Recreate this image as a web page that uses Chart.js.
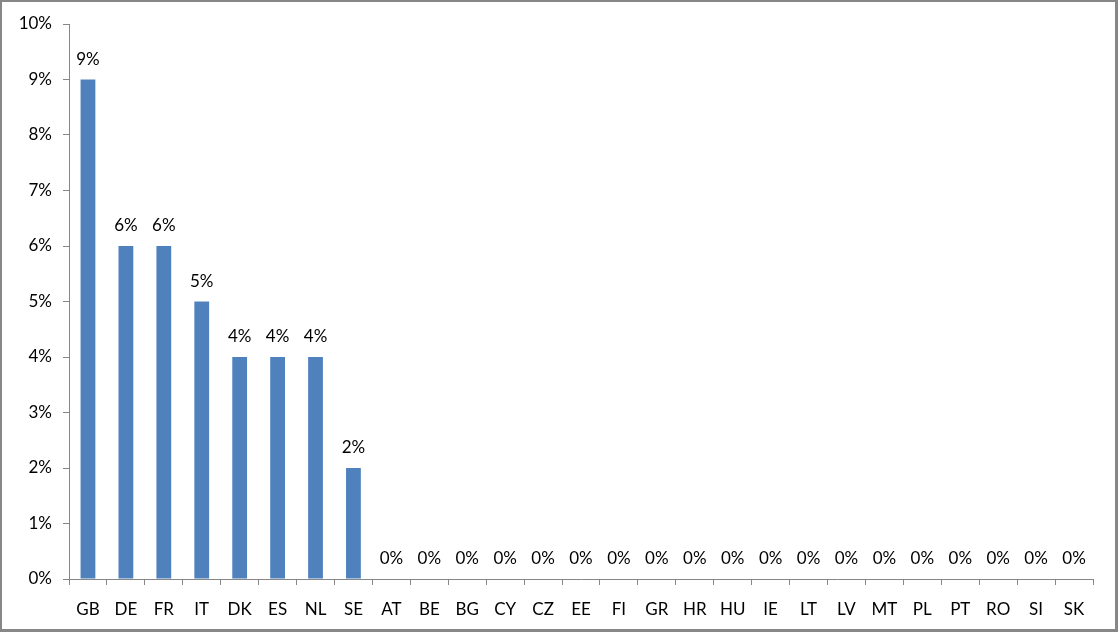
<!DOCTYPE html>
<html>
<head>
<meta charset="utf-8">
<script src="https://cdn.jsdelivr.net/npm/chart.js@4/dist/chart.umd.min.js"></script>
<style>
  html, body { margin: 0; padding: 0; background: #fff; }
  #wrap {
    width: 1118px; height: 632px; box-sizing: border-box;
    border: 2px solid #878787; border-right-width: 3px; border-bottom-width: 3px;
    background: #fff;
  }
  #wrap canvas { display: block; }
</style>
</head>
<body>
<div id="wrap"><canvas id="chart"></canvas></div>
<script>
const countries = ["GB", "DE", "FR", "IT", "DK", "ES", "NL", "SE", "AT", "BE", "BG", "CY", "CZ", "EE", "FI", "GR", "HR", "HU", "IE", "LT", "LV", "MT", "PL", "PT", "RO", "SI", "SK"];
const shares = [9, 6, 6, 5, 4, 4, 4, 2, 0, 0, 0, 0, 0, 0, 0, 0, 0, 0, 0, 0, 0, 0, 0, 0, 0, 0, 0];
const yTicks = [0, 1, 2, 3, 4, 5, 6, 7, 8, 9, 10];

const FONT = "Lato, 'Open Sans', sans-serif";
const AXIS = '#868686';

// value labels above each bar
const barLabels = {
  id: 'barLabels',
  afterDatasetsDraw(chart) {
    const ctx = chart.ctx;
    const meta = chart.getDatasetMeta(0);
    ctx.save();
    ctx.font = '17px ' + FONT;
    ctx.fillStyle = '#000';
    ctx.textAlign = 'center';
    ctx.textBaseline = 'alphabetic';
    meta.data.forEach((bar, i) => {
      ctx.fillText(shares[i] + '%', bar.x, bar.y - 15);
    });
    ctx.restore();
  }
};

const canvas = document.getElementById('chart');
canvas.width = 1113;
canvas.height = 627;

new Chart(canvas.getContext('2d'), {
  type: 'bar',
  data: {
    labels: countries,
    datasets: [{
      data: shares,
      backgroundColor: '#4F81BD',
      borderWidth: 0,
      barPercentage: 0.39,
      categoryPercentage: 1
    }]
  },
  options: {
    responsive: false,
    animation: false,
    devicePixelRatio: 1,
    layout: { padding: { top: 22, right: 22, bottom: 0, left: 0 } },
    plugins: { legend: { display: false }, tooltip: { enabled: false } },
    scales: {
      x: {
        afterFit: (s) => { s.height = 50; },
        grid: { drawOnChartArea: false, drawTicks: true, tickLength: 6, color: AXIS, offset: true },
        border: { display: true, color: AXIS, width: 1 },
        ticks: { color: '#000', font: { family: FONT, size: 17 }, padding: 14, maxRotation: 0, autoSkip: false }
      },
      y: {
        min: yTicks[0],
        max: yTicks[yTicks.length - 1],
        afterFit: (s) => { s.width = 67; },
        afterBuildTicks: (s) => { s.ticks = yTicks.map(v => ({ value: v })); },
        grid: { drawOnChartArea: false, drawTicks: true, tickLength: 6, color: AXIS },
        border: { display: true, color: AXIS, width: 1 },
        ticks: { color: '#000', font: { family: FONT, size: 17 }, padding: 11, callback: (v) => v + '%' }
      }
    }
  },
  plugins: [barLabels]
});
</script>
</body>
</html>
